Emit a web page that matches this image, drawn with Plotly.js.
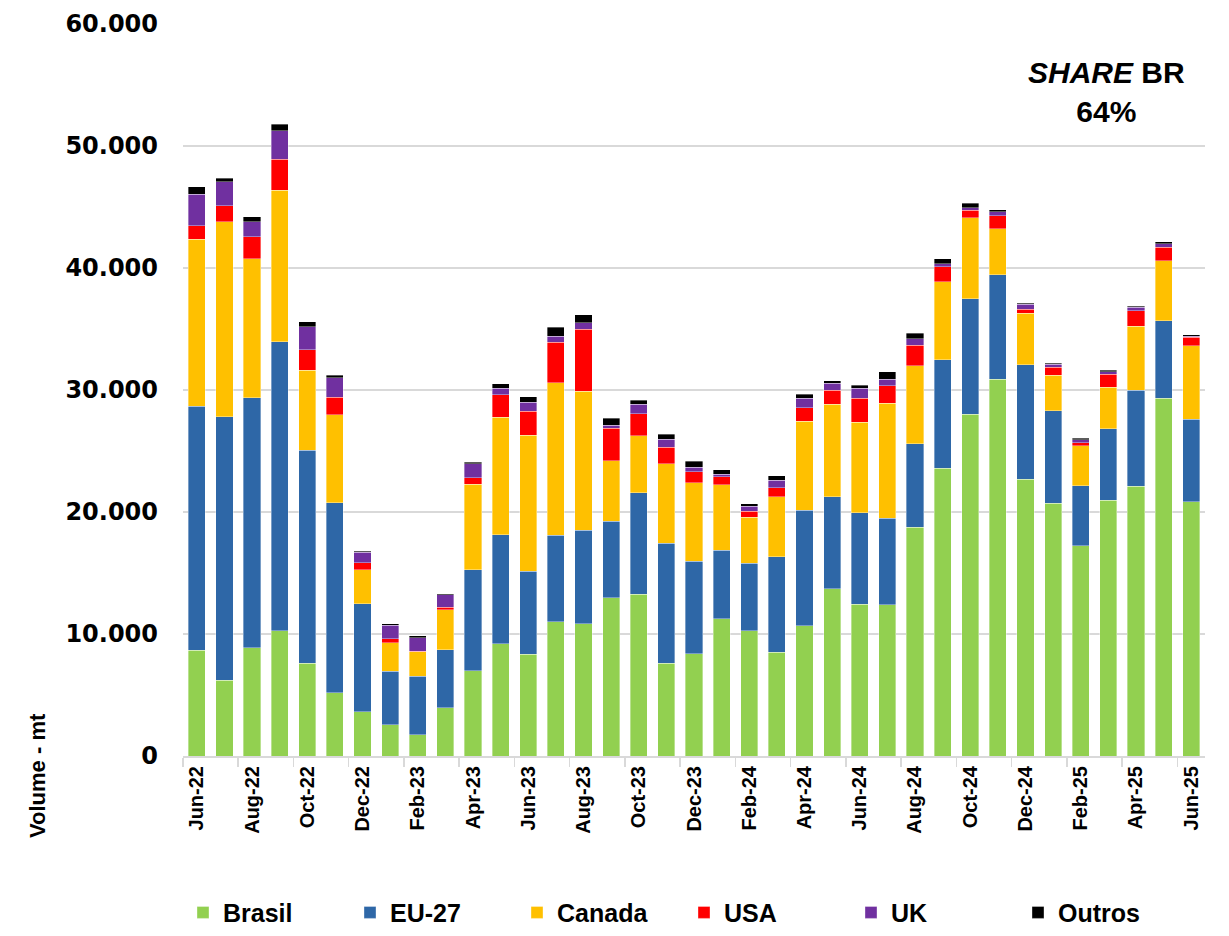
<!DOCTYPE html>
<html>
<head>
<meta charset="utf-8">
<script src="https://cdn.plot.ly/plotly-3.0.1.min.js"></script>
<style>html,body{margin:0;padding:0;background:#fff;}#chart{width:1229px;height:936px;}</style>
</head>
<body>
<div id="chart"></div>
<script>
const months = ["Jun-22","Jul-22","Aug-22","Sep-22","Oct-22","Nov-22","Dec-22","Jan-23","Feb-23","Mar-23","Apr-23","May-23","Jun-23","Jul-23","Aug-23","Sep-23","Oct-23","Nov-23","Dec-23","Jan-24","Feb-24","Mar-24","Apr-24","May-24","Jun-24","Jul-24","Aug-24","Sep-24","Oct-24","Nov-24","Dec-24","Jan-25","Feb-25","Mar-25","Apr-25","May-25","Jun-25"];

const brasil = [8660,6200,8860,10270,7600,5170,3620,2550,1750,3950,6990,9200,8330,11010,10850,12990,13260,7590,8380,11260,10250,8520,10680,13700,12440,12380,18770,23580,28000,30900,22690,20720,17220,20960,22120,29340,20840];
const eu27 = [20000,21600,20500,23700,17450,15600,8860,4400,4770,4760,8270,8940,6800,7070,7670,6240,8300,9860,7570,5620,5530,7810,9480,7530,7480,7100,6820,8900,9490,8530,9370,7580,4930,5850,7850,6330,6770];
const canada = [13700,16000,11400,12400,6550,7200,2800,2350,2030,3260,7000,9640,11150,12520,11380,4990,4710,6500,6460,5340,3780,4900,7260,7620,7450,9420,6380,6390,6630,3790,4240,2920,3280,3430,5250,4930,6000];
const usa = [1100,1300,1800,2550,1700,1450,570,320,50,220,550,1830,1980,3300,5060,2630,1780,1340,880,660,490,770,1130,1150,1950,1460,1700,1220,630,1050,330,630,240,1040,1290,1100,720];
const uk = [2600,1950,1250,2350,1900,1600,850,1080,1100,1040,1150,550,740,500,550,270,770,660,380,220,420,600,770,550,840,520,550,240,180,330,380,270,270,210,270,300,90];
const outros = [600,300,400,500,400,200,100,150,140,80,130,340,430,750,660,550,360,410,490,350,190,360,320,220,220,600,440,420,380,180,90,90,90,120,90,150,90];

const seriesNames = ["Brasil","EU-27","Canada","USA","UK","Outros"];
const seriesData = [brasil, eu27, canada, usa, uk, outros];
const seriesColors = ["#92D050","#2E67A7","#FFC000","#FF0000","#7030A0","#000000"];

const traces = seriesNames.map((n,i)=>({
  type:"bar", name:n, x:months, y:seriesData[i],
  marker:{color:seriesColors[i], line:{color:"rgba(255,255,255,0.6)", width:0.6}},
  hoverinfo:"x+y+name"
}));

const layout = {
  width:1229, height:936,
  margin:{l:183, r:24, t:24, b:180, autoexpand:false},
  barmode:"stack", bargap:0.38,
  separators:",.",
  paper_bgcolor:"#fff", plot_bgcolor:"#fff",
  showlegend:true,
  xaxis:{
    type:"category", range:[-0.5,36.5], dtick:2, tickangle:-90, automargin:false,
    ticks:"outside", tickson:"boundaries", ticklen:9, tickcolor:"#d9d9d9", tickwidth:1.5,
    showline:true, linecolor:"#d9d9d9", linewidth:2, showgrid:false,
    tickfont:{family:"Liberation Sans, Arial, sans-serif", size:20, color:"#000", weight:"bold"}
  },
  yaxis:{
    range:[0,60000], dtick:10000, tickformat:",.0f", automargin:false,
    showgrid:true, gridcolor:"#d9d9d9", gridwidth:2, zeroline:false, showline:false,
    ticklabelstandoff:24,
    tickfont:{family:"DejaVu Sans, sans-serif", size:24, color:"#000", weight:"bold"}
  },
  legend:{
    orientation:"h", x:0.0, xanchor:"left", y:-0.214, yanchor:"middle",
    entrywidth:122, traceorder:"normal", itemwidth:30,
    font:{family:"Liberation Sans, Arial, sans-serif", size:25, color:"#000", weight:"bold"}
  },
  annotations:[
    {xref:"paper", yref:"paper", x:0.904, y:0.907, xanchor:"center", yanchor:"middle",
     text:"<i>SHARE</i> BR<br>64%", showarrow:false, align:"center",
     font:{family:"Liberation Sans, Arial, sans-serif", size:30, color:"#000", weight:"bold"}},
    {xref:"paper", yref:"paper", x:-0.1429, y:-0.026, xanchor:"center", yanchor:"middle",
     text:"Volume - mt", textangle:-90, showarrow:false,
     font:{family:"Liberation Sans, Arial, sans-serif", size:22, color:"#000", weight:"bold"}}
  ]
};

Plotly.newPlot("chart", traces, layout, {displayModeBar:false, staticPlot:true});
</script>
</body>
</html>
